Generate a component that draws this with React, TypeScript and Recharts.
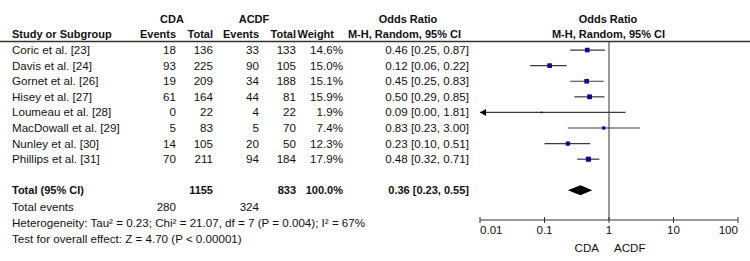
import { ScatterChart, Scatter, XAxis, YAxis, ErrorBar, ReferenceLine } from "recharts";

document.body.style.margin = "0";

// study rows
const studies = [
	"Coric et al. [23]",
	"Davis et al. [24]",
	"Gornet et al. [26]",
	"Hisey et al. [27]",
	"Loumeau et al. [28]",
	"MacDowall et al. [29]",
	"Nunley et al. [30]",
	"Phillips et al. [31]",
];
const cdaEvents = [18, 93, 19, 61, 0, 5, 14, 70];
const cdaTotal = [136, 225, 209, 164, 22, 83, 105, 211];
const acdfEvents = [33, 90, 34, 44, 4, 5, 20, 94];
const acdfTotal = [133, 105, 188, 81, 22, 70, 50, 184];
const weights = [14.6, 15.0, 15.1, 15.9, 1.9, 7.4, 12.3, 17.9];
const oddsRatio = [0.46, 0.12, 0.45, 0.5, 0.09, 0.83, 0.23, 0.48];
const ciLow = [0.25, 0.06, 0.25, 0.29, 0.0, 0.23, 0.1, 0.32];
const ciHigh = [0.87, 0.22, 0.83, 0.85, 1.81, 3.0, 0.51, 0.71];

// pooled result
const totalRow = 9;
const totalOR = 0.36;
const totalLow = 0.23;
const totalHigh = 0.55;
const totalCda = 1155;
const totalAcdf = 833;
const totalWeight = 100.0;
const eventsCda = 280;
const eventsAcdf = 324;
const heterogeneity = "Heterogeneity: Tau\u00b2 = 0.23; Chi\u00b2 = 21.07, df = 7 (P = 0.004); I\u00b2 = 67%";
const overallTest = "Test for overall effect: Z = 4.70 (P < 0.00001)";

const xTicks = [0.01, 0.1, 1, 10, 100];
const xMin = 0.01;
const xMax = 100;

const FONT = '"Liberation Sans", Arial, sans-serif';
const FS = 11.6;
const FS_BOLD = 11;
const INK = "#111";
const BLUE = "#0a0a96";
const LINE = "#3a3a3a";
const AXIS = "#333";
const TICK_SIZE = 3;
const TICK_MARGIN = 2;

// column x positions of the table
const COL = { name: 12, ev1: 176, tot1: 213, ev2: 259, tot2: 296, weight: 343, or: 469 };

const fmt2 = (v: number) => v.toFixed(2);
const ciText = (o: number, l: number, h: number) => `${fmt2(o)} [${fmt2(l)}, ${fmt2(h)}]`;

const studyData = studies.map((name, i) => ({
	name,
	row: i,
	x: oddsRatio[i],
	lo: ciLow[i],
	hi: ciHigh[i],
	ev1: cdaEvents[i],
	tot1: cdaTotal[i],
	ev2: acdfEvents[i],
	tot2: acdfTotal[i],
	weight: weights[i],
}));

// rows whose lower limit runs off the axis get an arrow
const arrowData = studyData.filter((d) => d.lo < xMin).map((d) => ({ x: xMin, row: d.row }));

const totalData = [
	{ x: totalLow, row: totalRow, part: "low" },
	{ x: totalOR, row: totalRow, part: "mid" },
	{ x: totalHigh, row: totalRow, part: "high" },
];

const T = ({ x, y, anchor = "start", bold = false, children }: any) => (
	<text
		x={x}
		y={y}
		dy="0.35em"
		textAnchor={anchor}
		fontFamily={FONT}
		fontSize={bold ? FS_BOLD : FS}
		fontWeight={bold ? "bold" : "normal"}
		fill={INK}
	>
		{children}
	</text>
);

const StudyShape = (p: any) => {
	const { cx, cy, payload } = p;
	const side = 1.2 * Math.sqrt(payload.weight);
	return (
		<g>
			<rect x={cx - side / 2} y={cy - side / 2} width={side} height={side} fill={BLUE} />
			<T x={COL.name} y={cy}>{payload.name}</T>
			<T x={COL.ev1} y={cy} anchor="end">{payload.ev1}</T>
			<T x={COL.tot1} y={cy} anchor="end">{payload.tot1}</T>
			<T x={COL.ev2} y={cy} anchor="end">{payload.ev2}</T>
			<T x={COL.tot2} y={cy} anchor="end">{payload.tot2}</T>
			<T x={COL.weight} y={cy} anchor="end">{payload.weight.toFixed(1)}%</T>
			<T x={COL.or} y={cy} anchor="end">{ciText(payload.x, payload.lo, payload.hi)}</T>
		</g>
	);
};

const ArrowShape = (p: any) => {
	const { cx, cy } = p;
	return <polygon points={`${cx},${cy} ${cx + 6},${cy - 3.5} ${cx + 6},${cy + 3.5}`} fill="#000" />;
};

const TotalShape = (p: any) => {
	const { cy, payload } = p;
	if (payload.part !== "mid") return <g />;
	return (
		<g>
			<T x={COL.name} y={cy} bold>Total (95% CI)</T>
			<T x={COL.tot1} y={cy} anchor="end" bold>{totalCda}</T>
			<T x={COL.tot2} y={cy} anchor="end" bold>{totalAcdf}</T>
			<T x={COL.weight} y={cy} anchor="end" bold>{totalWeight.toFixed(1)}%</T>
			<T x={COL.or} y={cy} anchor="end" bold>{ciText(totalOR, totalLow, totalHigh)}</T>
		</g>
	);
};

const DiamondLine = (p: any) => {
	const [a, m, b] = p.points;
	return (
		<polygon
			points={`${a.x},${a.y} ${m.x},${m.y - 5} ${b.x},${b.y} ${m.x},${m.y + 5}`}
			fill="#000"
		/>
	);
};

const AxisTick = (p: any) => {
	const { x, y, payload } = p;
	const v = payload.value;
	const anchor = v === xMin ? "start" : v === xMax ? "end" : "middle";
	const axisY = y - TICK_SIZE - TICK_MARGIN;
	return (
		<g>
			<line x1={x} x2={x} y1={axisY} y2={axisY - 3} stroke={AXIS} />
			<T x={x} y={axisY + 10} anchor={anchor}>{String(v)}</T>
			{v === 1 && (
				<g>
					<T x={x - 10} y={axisY + 27.5} anchor="end">CDA</T>
					<T x={x + 5} y={axisY + 27.5}>ACDF</T>
				</g>
			)}
		</g>
	);
};

const errorRange = (d: any) => {
	const e = d && d.payload ? d.payload : d;
	return [e.x - Math.max(e.lo, xMin), e.hi - e.x];
};

export default function App() {
	return (
		<div style={{ position: "relative", width: 750, height: 261, background: "#fff" }}>
			<ScatterChart width={750} height={261} margin={{ top: 41, right: 12, bottom: 11, left: 480 }}>
				<XAxis
					type="number"
					dataKey="x"
					scale="log"
					domain={[xMin, xMax]}
					ticks={xTicks}
					interval={0}
					tickSize={TICK_SIZE}
					tickMargin={TICK_MARGIN}
					height={30}
					stroke={AXIS}
					tick={AxisTick}
				/>
				<YAxis type="number" dataKey="row" domain={[-0.58, 10.9]} reversed hide width={0} />
				<ReferenceLine x={1} stroke="#555" strokeWidth={1.2} />
				<Scatter data={studyData} shape={StudyShape} isAnimationActive={false}>
					<ErrorBar
						direction="x"
						dataKey={errorRange}
						width={0}
						stroke={LINE}
						strokeWidth={1.2}
						isAnimationActive={false}
					/>
				</Scatter>
				<Scatter data={arrowData} shape={ArrowShape} isAnimationActive={false} />
				<Scatter
					data={totalData}
					shape={TotalShape}
					line={DiamondLine}
					lineType="joint"
					isAnimationActive={false}
				/>
			</ScatterChart>
			<svg
				width={750}
				height={261}
				style={{ position: "absolute", left: 0, top: 0, pointerEvents: "none" }}
			>
				<T x={172} y={19} anchor="middle" bold>CDA</T>
				<T x={254} y={19} anchor="middle" bold>ACDF</T>
				<T x={408} y={19} anchor="middle" bold>Odds Ratio</T>
				<T x={608} y={19} anchor="middle" bold>Odds Ratio</T>
				<T x={COL.name} y={34.5} bold>Study or Subgroup</T>
				<T x={COL.ev1} y={34.5} anchor="end" bold>Events</T>
				<T x={COL.tot1} y={34.5} anchor="end" bold>Total</T>
				<T x={COL.ev2} y={34.5} anchor="end" bold>Events</T>
				<T x={COL.tot2} y={34.5} anchor="end" bold>Total</T>
				<T x={334} y={34.5} anchor="end" bold>Weight</T>
				<T x={404.5} y={34.5} anchor="middle" bold>M-H, Random, 95% CI</T>
				<T x={608.5} y={34.5} anchor="middle" bold>M-H, Random, 95% CI</T>
				<line x1={0} x2={750} y1={41.5} y2={41.5} stroke={AXIS} strokeWidth={1.5} />
				<T x={COL.name} y={207}>Total events</T>
				<T x={COL.ev1} y={207} anchor="end">{eventsCda}</T>
				<T x={COL.ev2} y={207} anchor="end">{eventsAcdf}</T>
				<T x={COL.name} y={223}>{heterogeneity}</T>
				<T x={COL.name} y={239}>{overallTest}</T>
			</svg>
		</div>
	);
}
